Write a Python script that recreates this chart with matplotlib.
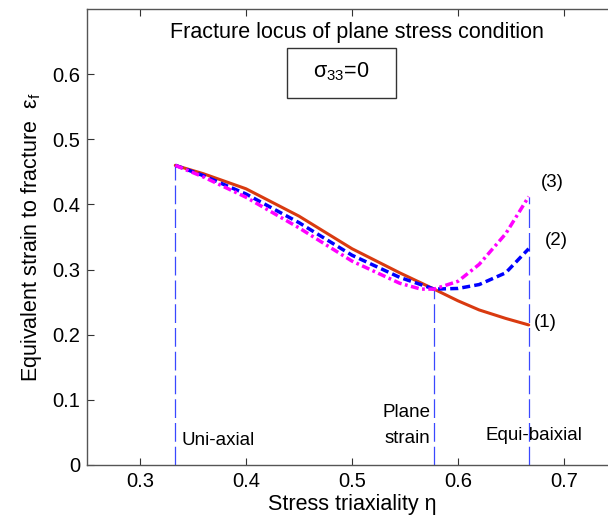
import matplotlib
matplotlib.use("Agg")
import matplotlib.pyplot as plt
from matplotlib.patches import Rectangle

plt.rcParams['font.family'] = ['Liberation Sans', 'DejaVu Sans']
plt.rcParams['mathtext.fontset'] = 'custom'
plt.rcParams['mathtext.rm'] = 'Liberation Sans'

# Data
eta1 = [0.3333, 0.36, 0.40, 0.45, 0.50, 0.545, 0.5774, 0.60, 0.62, 0.645, 0.6667]
eps1 = [0.460, 0.447, 0.424, 0.382, 0.332, 0.295, 0.270, 0.252, 0.238, 0.225, 0.215]

eta2 = [0.3333, 0.36, 0.40, 0.45, 0.50, 0.545, 0.5774, 0.60, 0.62, 0.645, 0.6667]
eps2 = [0.460, 0.444, 0.416, 0.372, 0.322, 0.288, 0.270, 0.271, 0.277, 0.295, 0.332]

eta3 = [0.3333, 0.36, 0.40, 0.45, 0.50, 0.545, 0.565, 0.5774, 0.60, 0.62, 0.645, 0.6667]
eps3 = [0.460, 0.442, 0.411, 0.364, 0.313, 0.279, 0.270, 0.270, 0.282, 0.308, 0.355, 0.412]

# Reference states: (eta, height of the marker line)
ref_eta = [1/3, 0.5774, 2/3]
ref_top = [0.460, 0.270, 0.412]

xticks = [0.3, 0.4, 0.5, 0.6, 0.7]
yticks = [0, 0.1, 0.2, 0.3, 0.4, 0.5, 0.6]
xticklabels = ['0.3', '0.4', '0.5', '0.6', '0.7']
yticklabels = ['0', '0.1', '0.2', '0.3', '0.4', '0.5', '0.6']

fig = plt.figure(figsize=(6.08, 5.22), dpi=100)
ax = fig.add_axes([0.1431, 0.1092, 0.8717, 0.8736])

for e, t in zip(ref_eta, ref_top):
    ax.plot([e, e], [0, t], color='#3a48ff', lw=0.9, dashes=(15, 4))

ax.plot(eta1, eps1, color='#d93a10', lw=2.2, solid_capstyle='round')
ax.plot(eta2, eps2, color='#0000ff', lw=2.5, dashes=(2.3, 1.2))
ax.plot(eta3, eps3, color='#ff00ff', lw=2.5, dashes=(2.3, 1.0, 0.8, 1.0))

ax.set_xlim(0.25, 0.75)
ax.set_ylim(0, 0.7)
ax.set_xticks(xticks)
ax.set_yticks(yticks)
ax.set_xticklabels(xticklabels)
ax.set_yticklabels(yticklabels)
ax.tick_params(direction='in', length=5, width=0.8, labelsize=14.5, top=True, right=True,
               color='#333333', pad=5)
for s in ax.spines.values():
    s.set_color('#555555')
    s.set_linewidth(1.0)

ax.set_xlabel('Stress triaxiality η', fontsize=15.5, labelpad=2)
ax.set_ylabel('Equivalent strain to fracture  $\\mathregular{ε_f}$', fontsize=15.5, labelpad=6)

ax.text(0.5045, 0.664, 'Fracture locus of plane stress condition', fontsize=15.5,
        ha='center', va='center')
ax.add_patch(Rectangle((0.4387, 0.563), 0.1028, 0.077, fill=False, ec='#333333', lw=1.0))
ax.text(0.490, 0.603, '$\\mathregular{σ_{33}}$=0', fontsize=15.5, ha='center', va='center')

ax.text(0.3387, 0.038, 'Uni-axial', fontsize=13.5, ha='left', va='center')
ax.text(0.5736, 0.080, 'Plane', fontsize=13.5, ha='right', va='center')
ax.text(0.5736, 0.041, 'strain', fontsize=13.5, ha='right', va='center')
ax.text(0.6255, 0.046, 'Equi-baixial', fontsize=13.5, ha='left', va='center')
ax.text(0.6715, 0.219, '(1)', fontsize=13.5, ha='left', va='center')
ax.text(0.6815, 0.345, '(2)', fontsize=13.5, ha='left', va='center')
ax.text(0.6785, 0.433, '(3)', fontsize=13.5, ha='left', va='center')

fig.savefig('out.png', dpi=100)
